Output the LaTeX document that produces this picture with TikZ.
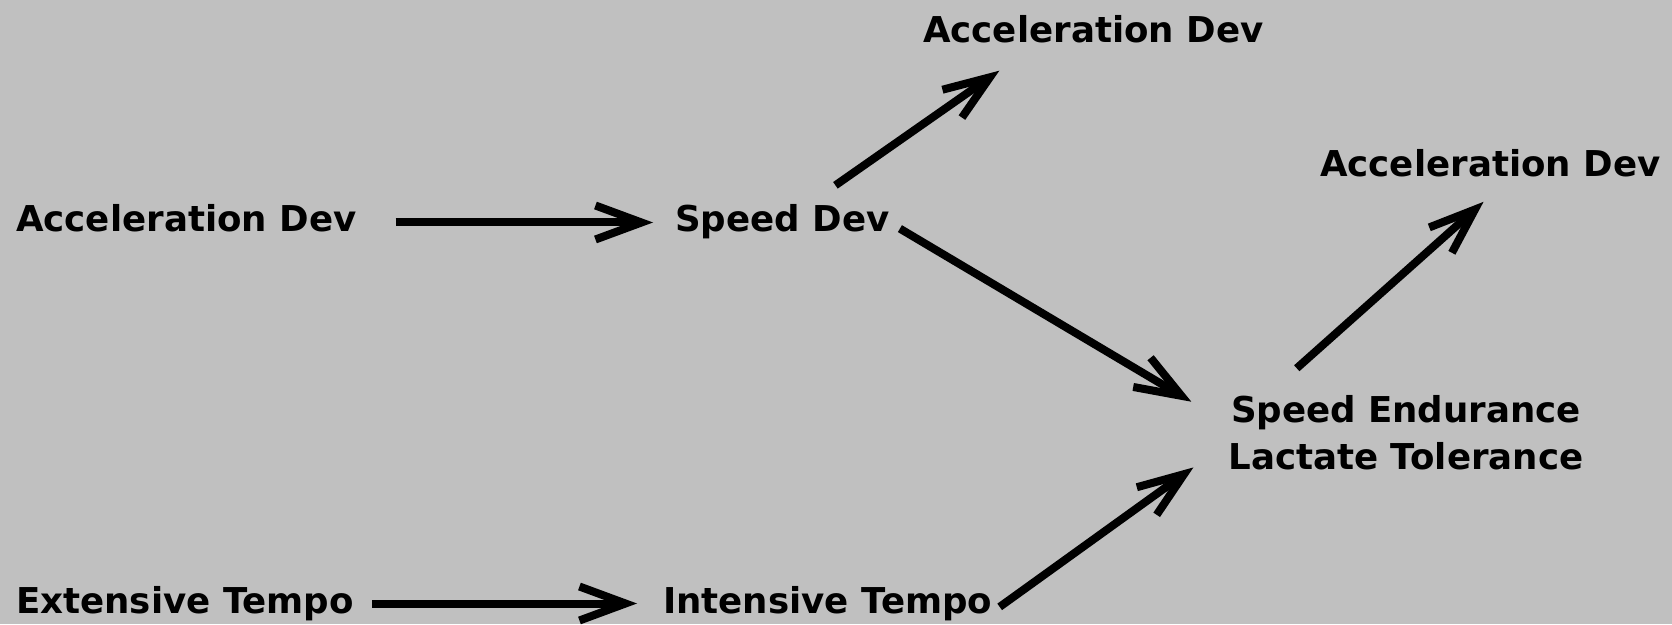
\documentclass[tikz,border=0pt]{standalone}
\usepackage{fontspec}
\setmainfont{DejaVu Sans}
\usetikzlibrary{arrows.meta}
\definecolor{bgray}{RGB}{192,192,192}

\begin{document}
\begin{tikzpicture}[x=1pt,y=1pt,
    lbl/.style={inner sep=0pt, font=\fontsize{35.6}{47}\selectfont\bfseries},
    word/.style={lbl, text height=27pt, text depth=8pt},
    flow/.style={line width=8pt, -{Straight Barb[length=46pt,width=34pt]}}]
    % Background
    \fill[bgray] (0,0) rectangle (1672,624);
    \useasboundingbox (0,0) rectangle (1672,624);

    % Top row
    \node[word, anchor=base west] (accL) at (16,392) {Acceleration Dev};
    \node[word, anchor=base west] (speed) at (675,392) {Speed Dev};
    \node[word, anchor=base west] (accT) at (923,581) {Acceleration Dev};

    % Right side
    \node[lbl, align=center] (endur) at (1406,191) {Speed Endurance\\Lactate Tolerance};
    \node[word, anchor=base west] (accR) at (1320,447) {Acceleration Dev};

    % Bottom row
    \node[word, anchor=base west] (ext) at (16,11) {Extensive Tempo};
    \node[word, anchor=base west] (inten) at (663,11) {Intensive Tempo};

    % Arrows
    \draw[flow, shorten <=39pt, shorten >=22pt] (accL.east) -- (speed.west);
    \draw[flow, shorten <=34pt, shorten >=34pt] (speed) -- (accT.195);
    \draw[flow, shorten <=12pt, shorten >=43pt] (speed.east) -- (endur.177);
    \draw[flow, shorten <=41pt, shorten >=25pt] (endur.165) -- (accR.-56);
    \draw[flow, shorten <=18pt, shorten >=26pt] (ext.east) -- (inten.west);
    \draw[flow, shorten <=9pt, shorten >=43pt] (inten.-3) -- (endur.183);
\end{tikzpicture}
\end{document}
